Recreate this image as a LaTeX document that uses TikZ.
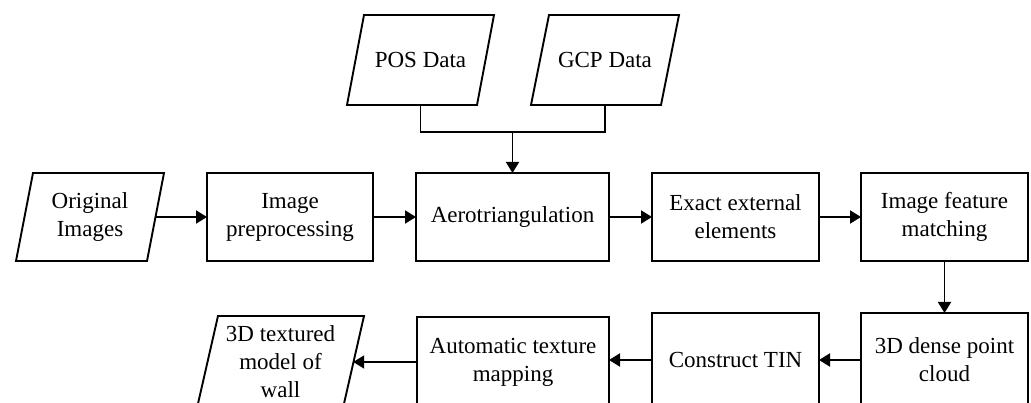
\documentclass[tikz,border=0pt]{standalone}
\usepackage{fontspec}
\setmainfont{Liberation Serif}
\usetikzlibrary{arrows.meta}
\tikzset{
  ln/.style={line width=1.9pt, line join=miter},
  arr/.style={ln, -{Triangle[length=11pt,width=13pt]}},
  txt/.style={align=center, inner sep=0pt, outer sep=0pt, font=\fontsize{23}{28}\selectfont},
  box/.style={txt, draw, ln},
}
\newcommand\paranode[7]{%
  \node[txt, minimum width=#4pt, minimum height=#5pt] (#1) at (#2,#3) {#7};
  \draw[ln] ([xshift=#6pt]#1.north west) -- ([xshift=#6pt]#1.north east)
    -- ([xshift=-#6pt]#1.south east) -- ([xshift=-#6pt]#1.south west) -- cycle;}
\begin{document}
\begin{tikzpicture}[x=1pt,y=-1pt]
\useasboundingbox (0,0) rectangle (1031,403);
\clip (0,0) rectangle (1031,403);
% top inputs
\paranode{pos}{420.5}{60}{130}{90}{8.5}{POS Data}
\paranode{gcp}{605}{60}{130}{90}{9}{GCP Data}
% main row
\paranode{orig}{90}{217}{131}{88}{8.5}{Original\\Images}
\node[box, minimum width=166pt, minimum height=88pt] (pre) at (290,217) {Image\\preprocessing};
\node[box, minimum width=193pt, minimum height=88pt] (aero) at (512.5,217) {Aerotriangulation};
\node[box, minimum width=167pt, minimum height=88pt] (ext) at (735.5,217) {Exact external\\elements};
\node[box, minimum width=167pt, minimum height=88pt] (feat) at (944.5,217) {Image feature\\matching};
% bottom row
\node[box, minimum width=167pt, minimum height=94pt] (dense) at (944.5,360) {3D dense point\\cloud};
\node[box, minimum width=167pt, minimum height=94pt] (tin) at (735.5,360) {Construct TIN};
\node[box, minimum width=192pt, minimum height=90pt] (auto) at (513,362) {Automatic texture\\mapping};
\paranode{model}{280.5}{362}{146}{92}{10.5}{3D textured\\model of\\wall}
% connectors
\coordinate (j) at (512.5,132);
\draw[ln] (pos.south) |- (j) -| (gcp.south);
\draw[arr] (j) -- (aero.north);
\draw[arr] (orig.east) -- (pre.west);
\draw[arr] (pre.east) -- (aero.west);
\draw[arr] (aero.east) -- (ext.west);
\draw[arr] (ext.east) -- (feat.west);
\draw[arr] (feat.south) -- (dense.north);
\draw[arr] (dense.west) -- (tin.east);
\draw[arr] (tin.west) -- (tin.west -| auto.east);
\draw[arr] (auto.west) -- ([xshift=-0.3pt]model.east);
\end{tikzpicture}
\end{document}
